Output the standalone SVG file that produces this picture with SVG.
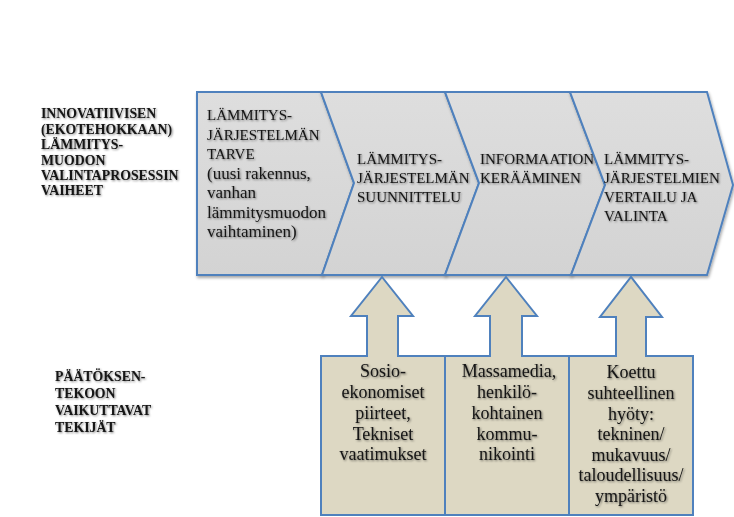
<svg xmlns="http://www.w3.org/2000/svg" width="734" height="517" viewBox="0 0 734 517">
<defs>
<filter id="tsh" x="-10%" y="-20%" width="120%" height="150%">
<feGaussianBlur in="SourceAlpha" stdDeviation="1.1"/>
<feOffset dx="0.8" dy="1.2" result="b"/>
<feComponentTransfer><feFuncA type="linear" slope="0.5"/></feComponentTransfer>
<feMerge><feMergeNode/><feMergeNode in="SourceGraphic"/></feMerge>
</filter>
<filter id="bsh" x="-5%" y="-5%" width="110%" height="115%">
<feDropShadow dx="1" dy="2" stdDeviation="1.5" flood-color="#000" flood-opacity="0.35"/>
</filter>
<linearGradient id="gg" x1="0" y1="0" x2="0" y2="1">
<stop offset="0" stop-color="#dedede"/>
<stop offset="1" stop-color="#d3d3d3"/>
</linearGradient>
</defs>
<style>
.chev{fill:url(#gg);stroke:#4f81bd;stroke-width:2;stroke-linejoin:miter}
.box{fill:#ddd8c3;stroke:#4f81bd;stroke-width:2}
.arrfill{fill:#ddd8c3;stroke:none}
.arrline{fill:none;stroke:#4f81bd;stroke-width:2;stroke-linejoin:miter}
text{font-family:"Liberation Serif","Times New Roman",serif;fill:#141414}
.cap{font-size:15px}
.low{font-size:17px}
.lab{font-size:13.8px;font-weight:bold}
.bt{font-size:18px;text-anchor:middle}
.t{filter:url(#tsh)}
</style>
<rect width="734" height="517" fill="#ffffff"/>

<g id="label-phases" class="t">
<text class="lab" x="41" y="118">INNOVATIIVISEN</text>
<text class="lab" x="41" y="133.5">(EKOTEHOKKAAN)</text>
<text class="lab" x="41" y="149">LÄMMITYS-</text>
<text class="lab" x="41" y="164.5">MUODON</text>
<text class="lab" x="41" y="180">VALINTAPROSESSIN</text>
<text class="lab" x="41" y="195">VAIHEET</text>
</g>

<g id="label-factors" class="t">
<text class="lab" x="55" y="381">PÄÄTÖKSEN-</text>
<text class="lab" x="55" y="398">TEKOON</text>
<text class="lab" x="55" y="415">VAIKUTTAVAT</text>
<text class="lab" x="55" y="432">TEKIJÄT</text>
</g>

<g id="phase1">
<path class="chev" filter="url(#bsh)" d="M197,92 L321,92 L354,183 L322,275 L197,275 Z"/>
<g class="t">
<text class="cap" x="207" y="120">LÄMMITYS-</text>
<text class="cap" x="207" y="140">JÄRJESTELMÄN</text>
<text class="cap" x="207" y="159">TARVE</text>
<text class="low" x="207" y="179">(uusi rakennus,</text>
<text class="low" x="207" y="198">vanhan</text>
<text class="low" x="207" y="218">lämmitysmuodon</text>
<text class="low" x="207" y="237">vaihtaminen)</text>
</g>
</g>

<g id="phase2">
<path class="chev" filter="url(#bsh)" d="M321,92 L445,92 L479,183 L445,275 L322,275 L354,183 Z"/>
<g class="t">
<text class="cap" x="357" y="164">LÄMMITYS-</text>
<text class="cap" x="357" y="183">JÄRJESTELMÄN</text>
<text class="cap" x="357" y="202">SUUNNITTELU</text>
</g>
</g>

<g id="phase3">
<path class="chev" filter="url(#bsh)" d="M445,92 L570,92 L605,185 L571,275 L445,275 L479,183 Z"/>
<g class="t">
<text class="cap" x="480" y="164">INFORMAATION</text>
<text class="cap" x="480" y="183">KERÄÄMINEN</text>
</g>
</g>

<g id="phase4">
<path class="chev" filter="url(#bsh)" d="M570,92 L707,92 L733,185 L707,275 L571,275 L605,185 Z"/>
<g class="t">
<text class="cap" x="604" y="164">LÄMMITYS-</text>
<text class="cap" x="604" y="183">JÄRJESTELMIEN</text>
<text class="cap" x="604" y="202">VERTAILU JA</text>
<text class="cap" x="604" y="221">VALINTA</text>
</g>
</g>

<g id="factor1">
<rect class="box" x="321" y="356" width="124" height="159"/>
<g class="t">
<text class="bt" x="383" y="377">Sosio-</text>
<text class="bt" x="383" y="398">ekonomiset</text>
<text class="bt" x="383" y="418.5">piirteet,</text>
<text class="bt" x="383" y="439.5">Tekniset</text>
<text class="bt" x="383" y="460">vaatimukset</text>
</g>
</g>

<g id="factor2">
<rect class="box" x="445" y="356" width="124" height="159"/>
<g class="t">
<text class="bt" x="509" y="377">Massamedia,</text>
<text class="bt" x="507" y="398">henkilö-</text>
<text class="bt" x="507" y="418.5">kohtainen</text>
<text class="bt" x="507" y="439.5">kommu-</text>
<text class="bt" x="507" y="460">nikointi</text>
</g>
</g>

<g id="factor3">
<rect class="box" x="569" y="356" width="124" height="159"/>
<g class="t">
<text class="bt" x="631" y="378">Koettu</text>
<text class="bt" x="631" y="399">suhteellinen</text>
<text class="bt" x="631" y="419.5">hyöty:</text>
<text class="bt" x="631" y="440">tekninen/</text>
<text class="bt" x="631" y="460.5">mukavuus/</text>
<text class="bt" x="631" y="481">taloudellisuus/</text>
<text class="bt" x="631" y="501.5">ympäristö</text>
</g>
</g>

<g id="connectors">
<polygon class="arrfill" points="367,358 367,316 351,316 382,277 413,316 398,316 398,358"/>
<path class="arrline" d="M367,357 L367,316 L351,316 L382,277 L413,316 L398,316 L398,357"/>
<polygon class="arrfill" points="490,358 490,316 475,316 506,277 537,316 522,316 522,358"/>
<path class="arrline" d="M490,357 L490,316 L475,316 L506,277 L537,316 L522,316 L522,357"/>
<polygon class="arrfill" points="616,358 616,317 600,317 631,277 662,317 646,317 646,358"/>
<path class="arrline" d="M616,357 L616,317 L600,317 L631,277 L662,317 L646,317 L646,357"/>
</g>
</svg>
